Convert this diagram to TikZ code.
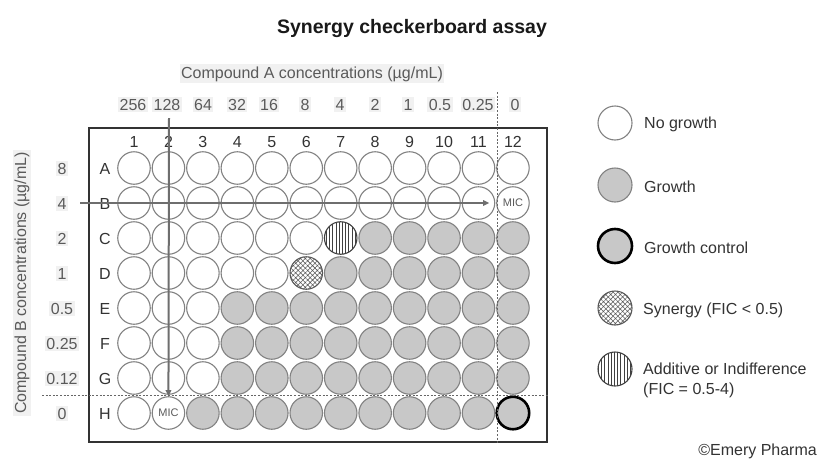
\documentclass[tikz,border=0pt]{standalone}
\usepackage{fontspec}
\setmainfont{Liberation Sans}
\usetikzlibrary{patterns.meta,arrows.meta}
\definecolor{wellline}{HTML}{828282}
\definecolor{growth}{HTML}{C8C8C8}
\definecolor{arrowgray}{HTML}{6E6E6E}
\definecolor{labelgray}{HTML}{5A5A5A}
\definecolor{platetext}{HTML}{333333}
\definecolor{boxbg}{HTML}{F1F1F1}
\begin{document}
\begin{tikzpicture}[x=1pt,y=-1pt,
  txt/.style={font=\fontsize{16}{18}\selectfont,inner sep=0pt},
  conc/.style={txt,text=labelgray,fill=boxbg,inner xsep=1.5pt,inner ysep=2pt},
  plabel/.style={txt,text=platetext},
  legtxt/.style={txt,text=platetext,anchor=base west},
  well/.style={circle,draw=wellline,line width=1.1pt,minimum size=32.5pt,inner sep=0pt},
  well-n/.style={well,fill=white},
  well-g/.style={well,fill=growth},
  micl/.style={font=\fontsize{11}{12}\selectfont,text=labelgray,inner sep=0pt},
  well-m/.style={well,fill=white,label={[micl]center:MIC}},
  well-a/.style={well,fill=white,draw=black!75,postaction={pattern={Lines[angle=90,distance=3.2pt,line width=0.7pt]},pattern color=black!75}},
  well-s/.style={well,fill=white,draw=black!65,postaction={pattern={Hatch[angle=45,distance=3.4pt,line width=0.55pt]},pattern color=black!65}},
  well-c/.style={well,draw=black,line width=2.6pt,fill=growth},
  legc/.style={well,minimum size=34pt},
  arr/.style={draw=arrowgray,line width=2pt,-{Triangle[length=6pt,width=5.5pt]}},
  divider/.style={draw=black!60,line width=0.9pt,dash pattern=on 2pt off 1.6pt}]
\useasboundingbox (0,0) rectangle (819,458);
\fill[white] (0,0) rectangle (819,458);

% title
\node[font=\bfseries\fontsize{19.5}{22}\selectfont,text=black!90,inner sep=0pt,anchor=base] (title) at (412,33) {Synergy checkerboard assay};

% compound A label and concentrations
\node[conc,anchor=base] (compA) at (312,78) {Compound A concentrations (µg/mL)};
\foreach \v/\x [count=\i] in {256/133,128/167,64/203,32/237,16/269,8/305,4/340,2/375,1/408,0.5/440,0.25/478,0/515}
  \node[conc,anchor=base] (ca\i) at (\x,110) {\v};

% plate frame
\draw[draw=platetext,line width=1.2pt] (89,128) rectangle (547,442);
\node[draw=none,inner sep=0pt] (plate) at (318,285) {};

% column numbers
\foreach \i in {1,...,12}
  \node[plabel,anchor=base] (col\i) at ({134+(\i-1)*34.45},147) {\i};

% compound B label and concentrations
\node[txt,text=labelgray,fill=boxbg,inner xsep=2pt,inner ysep=1.5pt,rotate=90] (compB) at (22,283) {Compound B concentrations (µg/mL)};

% wells
\foreach \r/\y/\cb/\types in {
 A/168/8/{n,n,n,n,n,n,n,n,n,n,n,n},
 B/203/4/{n,n,n,n,n,n,n,n,n,n,n,m},
 C/238/2/{n,n,n,n,n,n,a,g,g,g,g,g},
 D/273/1/{n,n,n,n,n,s,g,g,g,g,g,g},
 E/308/0.5/{n,n,n,g,g,g,g,g,g,g,g,g},
 F/343/0.25/{n,n,n,g,g,g,g,g,g,g,g,g},
 G/378/0.12/{n,n,n,g,g,g,g,g,g,g,g,g},
 H/413/0/{n,m,g,g,g,g,g,g,g,g,g,c}}
{
  \node[plabel,anchor=base] (row\r) at (105,\y+6) {\r};
  \node[conc,anchor=base] (cb\r) at (62,\y+6) {\cb};
  \foreach \t [count=\c] in \types {
    \node[well-\t] (w\r\c) at ({134+(\c-1)*34.45},\y) {};
  }
}

% divider lines
\coordinate (vdtop) at (497,92);
\coordinate (vdbot) at (497,443);
\coordinate (hdl) at (42,395);
\coordinate (hdr) at (548,395);
\draw[divider] (vdtop) -- (vdbot);
\draw[divider] (hdl) -- (hdr);

% MIC arrows
\coordinate (vstart) at (169,118);
\coordinate (hstart) at (80,203);
\draw[arr] (vstart) -- (wH2.north);
\draw[arr,shorten >=7pt] (hstart) -- (wB12.west);

% legend
\node[legc,fill=white] (l1) at (615,123) {};
\node[legtxt] (t1) at (644,128) {No growth};
\node[legc,fill=growth] (l2) at (615,185) {};
\node[legtxt] (t2) at (644,192) {Growth};
\node[legc,fill=growth,draw=black,line width=2.6pt] (l3) at (615,246) {};
\node[legtxt] (t3) at (644,253) {Growth control};
\node[legc,fill=white,draw=black!65,postaction={pattern={Hatch[angle=45,distance=3.4pt,line width=0.55pt]},pattern color=black!65}] (l4) at (615,308) {};
\node[legtxt] (t4) at (643,314) {Synergy (FIC < 0.5)};
\node[legc,fill=white,draw=black!75,postaction={pattern={Lines[angle=90,distance=3.2pt,line width=0.7pt]},pattern color=black!75}] (l5) at (615,369) {};
\node[legtxt] (t5) at (643,374) {Additive or Indifference};
\node[legtxt] (t6) at (643,394) {(FIC = 0.5-4)};

\node[txt,text=platetext,anchor=base east] (copy) at (817,455) {©Emery Pharma};
\end{tikzpicture}
\end{document}
